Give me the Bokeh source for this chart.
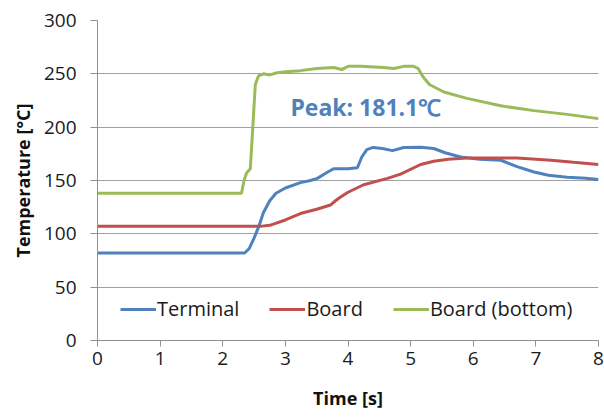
from bokeh.plotting import figure
from bokeh.models import Label, FixedTicker
from bokeh.embed import file_html
from bokeh.resources import INLINE

# ---- data ----
terminal_t = [0, 2.35, 2.42, 2.5, 2.57, 2.65, 2.75, 2.85, 3.0, 3.24, 3.4, 3.51, 3.65, 3.77,
              4.0, 4.15, 4.22, 4.3, 4.4, 4.55, 4.71, 4.89, 5.16, 5.37, 5.55, 5.8, 6.1,
              6.44, 6.7, 6.97, 7.2, 7.5, 7.8, 8.0]
terminal_v = [82, 82, 86, 96, 106, 120, 131, 138, 143, 148, 150, 152, 157, 161,
              161, 162, 172, 179, 181, 180, 178, 181, 181.1, 180, 176, 172, 170,
              169, 163, 158, 155, 153, 152, 151]

board_t = [0, 2.6, 2.75, 3.0, 3.24, 3.5, 3.72, 3.8, 3.87, 4.0, 4.25, 4.63, 4.84, 5.16,
           5.37, 5.6, 5.9, 6.3, 6.7, 7.0, 7.24, 7.6, 8.0]
board_v = [107, 107, 108, 113, 119, 123, 127, 131, 134, 139, 146, 152, 156, 165,
           168, 170, 171, 171, 171, 170, 169, 167, 165]

bottom_t = [0, 2.3, 2.34, 2.38, 2.44, 2.48, 2.52, 2.57, 2.65, 2.75, 2.87, 3.0, 3.24, 3.5,
            3.77, 3.9, 4.0, 4.2, 4.57, 4.73, 4.89, 5.05, 5.12, 5.2, 5.3, 5.53, 5.9,
            6.44, 6.97, 7.5, 8.0]
bottom_v = [138, 138, 150, 157, 161, 200, 240, 248, 250, 249, 251, 252, 253, 255,
            256, 254, 257, 257, 256, 255, 257, 257, 255, 247, 240, 233, 227,
            220, 215.5, 212, 208]

x_ticks = [0, 1, 2, 3, 4, 5, 6, 7, 8]
y_ticks = [0, 50, 100, 150, 200, 250, 300]
peak_text = "Peak: 181.1\u2103"

FONT = "Open Sans"

p = figure(width=604, height=418, x_range=(0, 8), y_range=(0, 300),
           output_backend="svg", toolbar_location=None,
           min_border_left=97, min_border_right=6, min_border_top=20, min_border_bottom=78)
p.outline_line_color = None
p.background_fill_color = "white"

p.line(terminal_t, terminal_v, line_color="#4F81BD", line_width=3, legend_label="Terminal")
p.line(board_t, board_v, line_color="#C0504D", line_width=3, legend_label="Board")
p.line(bottom_t, bottom_v, line_color="#9BBB59", line_width=3, legend_label="Board (bottom)")

p.add_layout(Label(x=3.08, y=219, text=peak_text, text_color="#4F81BD",
                   text_font=FONT, text_font_size="23px", text_font_style="bold",
                   text_align="left", text_baseline="middle"))

p.xgrid.visible = False
p.ygrid.grid_line_color = "#a0a0a0"
p.ygrid.grid_line_width = 1
p.ygrid.ticker = FixedTicker(ticks=y_ticks)

for ax in (p.xaxis[0], p.yaxis[0]):
    ax.axis_line_color = "#909090"
    ax.major_tick_line_color = "#909090"
    ax.minor_tick_line_color = None
    ax.major_tick_in = 0
    ax.major_label_text_font = FONT
    ax.major_label_text_font_size = "19px"
    ax.major_label_text_color = "#1a1a1a"
    ax.axis_label_text_font = FONT
    ax.axis_label_text_font_size = "18px"
    ax.axis_label_text_font_style = "bold"
    ax.axis_label_text_color = "#111111"

p.xaxis[0].ticker = FixedTicker(ticks=x_ticks)
p.yaxis[0].ticker = FixedTicker(ticks=y_ticks)
p.xaxis[0].major_tick_out = 6
p.yaxis[0].major_tick_out = 7
p.xaxis[0].major_label_standoff = 5
p.yaxis[0].major_label_standoff = 14
p.xaxis[0].axis_label = "Time [s]"
p.yaxis[0].axis_label = "Temperature [°C]"
p.xaxis[0].axis_label_standoff = 18
p.yaxis[0].axis_label_standoff = 6

lg = p.legend[0]
lg.orientation = "horizontal"
lg.location = (23, 18)
lg.border_line_color = None
lg.background_fill_alpha = 0
lg.padding = 0
lg.margin = 0
lg.spacing = 30
lg.glyph_width = 36
lg.glyph_height = 20
lg.label_height = 20
lg.label_standoff = 1
lg.label_text_font = FONT
lg.label_text_font_size = "20px"
lg.label_text_color = "#1a1a1a"

open("out.html", "w").write(file_html(p, INLINE))
